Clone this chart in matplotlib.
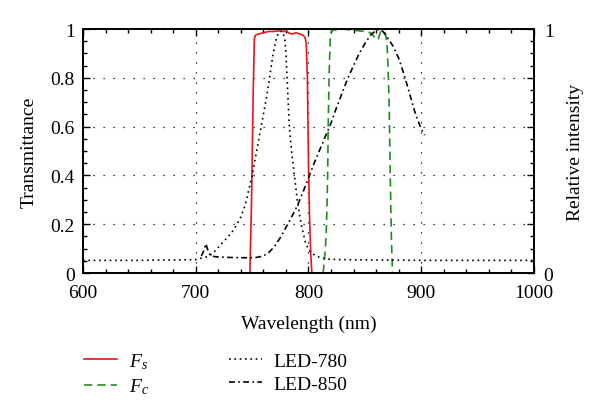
##############
# Librairies #
##############

import numpy as np
import matplotlib
matplotlib.use("Agg")
import matplotlib.pyplot as plt
from matplotlib.ticker import MultipleLocator

plt.rcParams['font.family'] = ['Liberation Serif', 'DejaVu Serif']
plt.rcParams['mathtext.fontset'] = 'custom'
plt.rcParams['mathtext.rm'] = 'Liberation Serif'
plt.rcParams['mathtext.it'] = 'Liberation Serif:italic'
plt.rcParams['font.size'] = 14

########
# Data #
########
# filtre Fs (transmittance)
wl_fs = [748, 749.5, 751, 752, 753, 756, 760, 765, 770, 775, 778, 781, 783, 786,
         789, 792, 795, 797, 798, 799, 800, 801, 802, 803]
t_fs = [0.0, 0.3, 0.75, 0.96, 0.975, 0.98, 0.985, 0.99, 0.99, 0.993, 0.99, 0.99,
        0.982, 0.98, 0.985, 0.98, 0.975, 0.965, 0.94, 0.8, 0.45, 0.22, 0.08, 0.0]

# filtre Fc (transmittance)
wl_fc = [813, 815, 816, 817, 817.5, 818.5, 819.5, 821, 830, 840, 850, 855, 858,
         860, 862, 864, 866, 868, 869.5, 870.5, 871.5, 872.5, 873.5, 874.5]
t_fc = [0.0, 0.1, 0.2, 0.4, 0.61, 0.85, 0.98, 0.995, 1.0, 0.995, 0.99, 0.985,
        0.97, 0.955, 0.96, 0.99, 0.995, 0.985, 0.95, 0.85, 0.7, 0.4, 0.15, 0.0]

# LED-780 (intensité relative)
wl_780 = [600, 650, 700, 704, 708, 712, 716, 720, 724, 728, 732, 736, 740, 744,
          747, 750, 754, 758, 762, 765.5, 768, 770, 772, 774.5, 777, 779, 780,
          781, 782, 783, 785, 787.5, 790, 793.5, 797, 800, 805, 810, 816, 830,
          900, 1000]
i_780 = [0.052, 0.052, 0.055, 0.06, 0.064, 0.07, 0.085, 0.105, 0.126, 0.145,
         0.167, 0.195, 0.23, 0.28, 0.34, 0.4, 0.5, 0.6, 0.7, 0.8, 0.88, 0.93,
         0.97, 0.99, 0.99, 0.96, 0.9, 0.8, 0.7, 0.6, 0.5, 0.4, 0.3, 0.2, 0.13,
         0.095, 0.075, 0.064, 0.057, 0.055, 0.052, 0.052]

# LED-850 (intensité relative)
wl_850 = [705, 707, 709, 711, 713, 716, 720, 730, 740, 750, 755, 760, 765, 770,
          775, 780, 785, 790, 795, 800, 805, 810, 815, 820, 825, 830, 835, 840,
          845, 850, 855, 860, 863, 866, 870, 875, 880, 885, 890, 895, 900, 903]
i_850 = [0.07, 0.09, 0.12, 0.09, 0.072, 0.068, 0.066, 0.064, 0.063, 0.063,
         0.065, 0.07, 0.085, 0.11, 0.145, 0.187, 0.23, 0.275, 0.33, 0.39, 0.45,
         0.505, 0.56, 0.615, 0.68, 0.74, 0.8, 0.85, 0.9, 0.94, 0.975, 0.995,
         1.0, 0.99, 0.965, 0.93, 0.88, 0.81, 0.73, 0.65, 0.59, 0.565]

#########
# Tracé #
#########
fig = plt.figure(figsize=(6, 4.14), dpi=100)
ax = fig.add_axes([0.1383, 0.338, 0.7517, 0.5895])

l1, = ax.plot(wl_fs, t_fs, color='#e8141c', lw=1.2, label='$F_s$')
l2, = ax.plot(wl_fc, t_fc, color='#1e8c1e', lw=1.2, ls=(0, (5, 3)), label='$F_c$')

ax2 = ax.twinx()
l3, = ax2.plot(wl_780, i_780, color='black', lw=1.2, ls=(0, (1, 2.2)), label='LED-780')
l4, = ax2.plot(wl_850, i_850, color='black', lw=1.2, ls=(0, (3.5, 2, 1, 2)), label='LED-850')

ax.set_xlim(600, 1000)
ax.set_ylim(0, 1)
ax2.set_ylim(0, 1)

ax.xaxis.set_major_locator(MultipleLocator(100))
ax.xaxis.set_minor_locator(MultipleLocator(20))
ax.set_yticks([0, 0.2, 0.4, 0.6, 0.8, 1.0])
ax.set_yticklabels(['0', '0.2', '0.4', '0.6', '0.8', '1'])
ax.yaxis.set_minor_locator(MultipleLocator(0.05))

ax2.set_yticks([0, 0.2, 0.4, 0.6, 0.8, 1.0])
ax2.set_yticklabels(['0', '', '', '', '', '1'])
ax2.yaxis.set_minor_locator(MultipleLocator(0.05))

ax.tick_params(which='both', direction='in', top=True, labelsize=14)
ax.tick_params(axis='x', pad=8)
ax.tick_params(axis='y', pad=6)
ax.tick_params(which='major', length=5, width=1)
ax.tick_params(which='minor', length=3, width=1)
ax2.tick_params(which='both', direction='in', labelsize=14, pad=7)
ax2.tick_params(which='major', length=5, width=1)
ax2.tick_params(which='minor', length=3, width=1)

for a in (ax, ax2):
    for s in a.spines.values():
        s.set_linewidth(1.3)

ax.grid(True, which='major', color='black', lw=0.9, ls=(0, (1, 7)))

ax.set_xlabel('Wavelength (nm)', fontsize=14, labelpad=10)
ax.set_ylabel('Transmittance', fontsize=14, labelpad=9)
ax2.set_ylabel('Relative intensity', fontsize=14, labelpad=10)

fig.legend(handles=[l1, l2, l3, l4], ncol=2, frameon=False, fontsize=14,
           loc='upper left', bbox_to_anchor=(0.118, 0.183), handlelength=1.7,
           columnspacing=4.1, handletextpad=0.6, labelspacing=0.3,
           borderpad=0.2)

fig.savefig('out.png', dpi=100)
